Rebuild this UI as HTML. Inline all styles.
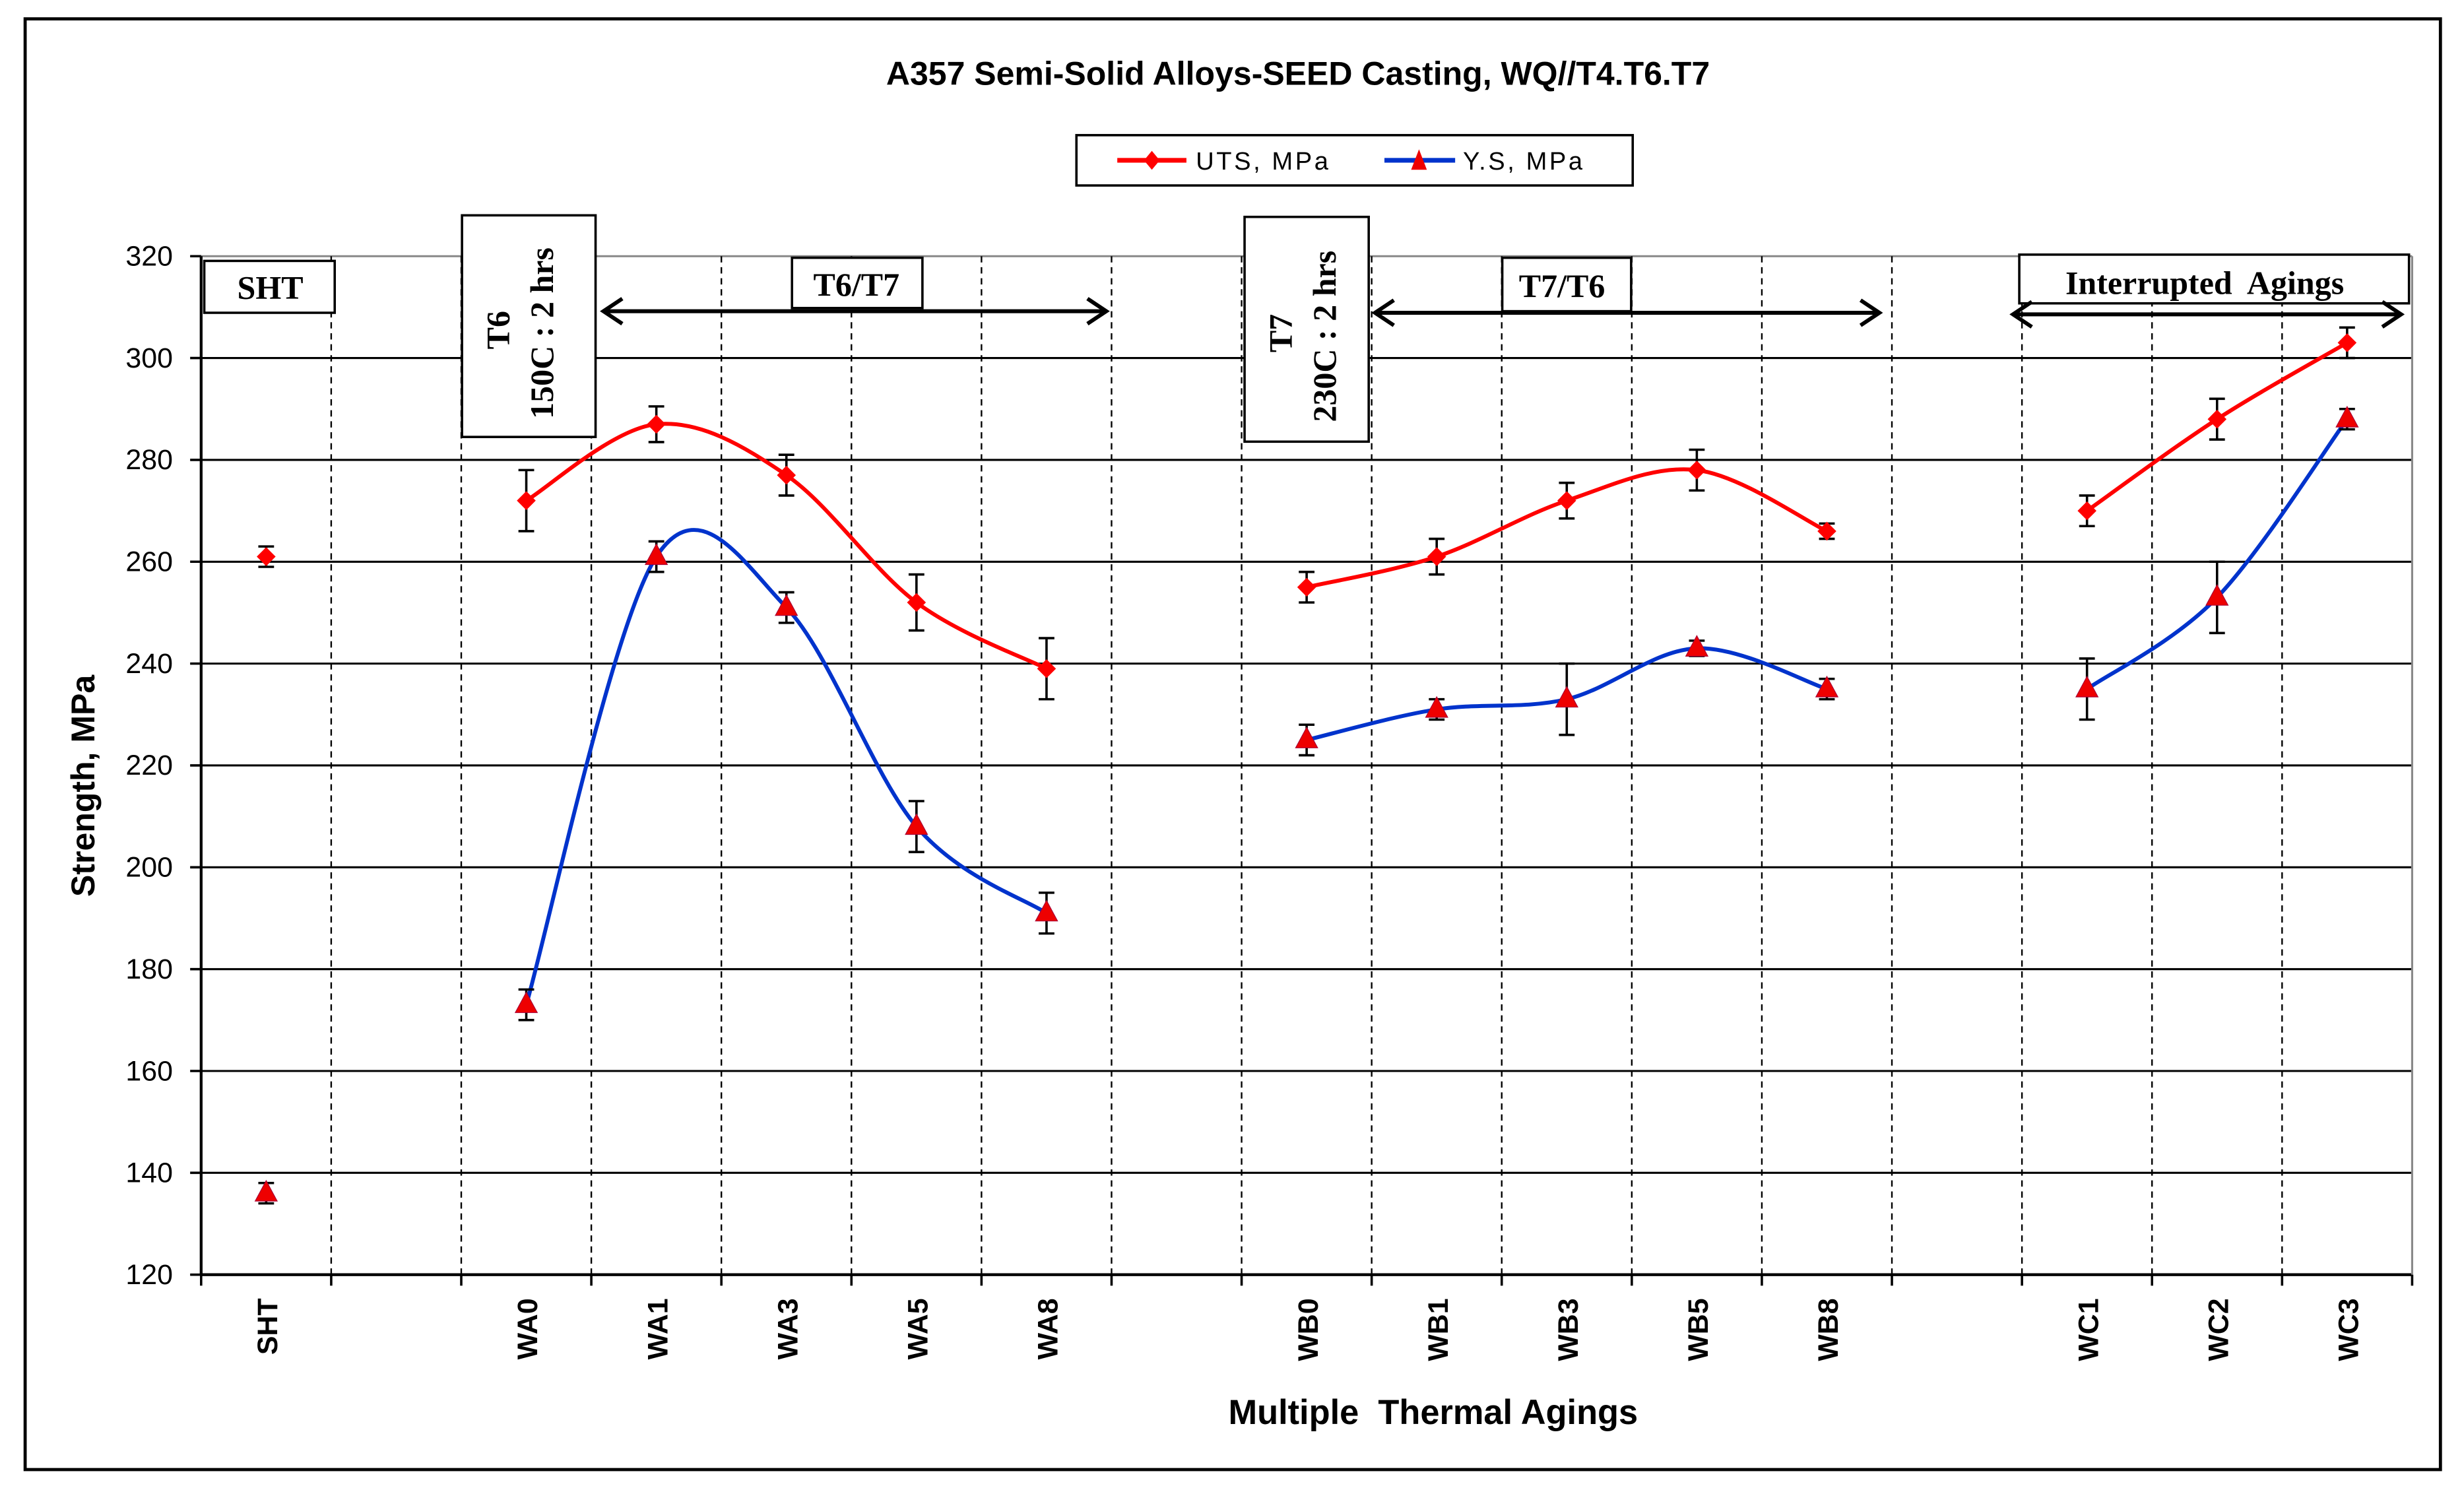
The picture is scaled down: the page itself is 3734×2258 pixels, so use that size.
<!DOCTYPE html>
<html><head><meta charset="utf-8"><style>
html,body{margin:0;padding:0;background:#fff;}
svg{display:block;}
text{font-family:"Liberation Sans",sans-serif;}
.serif{font-family:"Liberation Serif",serif;font-weight:bold;}
</style></head><body>
<svg id="chart" width="3734" height="2258" viewBox="0 0 1568 948" preserveAspectRatio="none" xmlns="http://www.w3.org/2000/svg">
<rect x="0" y="0" width="1568" height="948" fill="#fff"/>
<rect x="16" y="12" width="1537" height="923" fill="none" stroke="#000" stroke-width="2"/>
<text x="826" y="54" text-anchor="middle" font-size="21" font-weight="bold">A357  Semi-Solid Alloys-SEED Casting, WQ//T4.T6.T7</text>
<g>
<rect x="685" y="86" width="354" height="32" fill="#fff" stroke="#000" stroke-width="1.5"/>
<line x1="711" y1="102" x2="755" y2="102" stroke="#f00" stroke-width="3"/>
<path d="M733 96 L738 102 L733 108 L728 102Z" fill="#f00"/>
<text x="761" y="108" font-size="16" letter-spacing="1.5">UTS, MPa</text>
<line x1="881" y1="102" x2="926" y2="102" stroke="#0033cc" stroke-width="3"/>
<path d="M903 95 L908 108 L898 108Z" fill="#e00"/>
<text x="931" y="108" font-size="16" letter-spacing="1.5">Y.S, MPa</text>
</g>
<g id="grid"></g>
<g id="axes"></g>
<g id="annot">
<rect x="130" y="166" width="83" height="33" fill="#fff" stroke="#000" stroke-width="1.5"/>
<text class="serif" x="172" y="190" text-anchor="middle" font-size="21">SHT</text>
<rect x="294" y="137" width="85" height="141" fill="#fff" stroke="#000" stroke-width="1.5"/>
<text class="serif" font-size="21" transform="translate(324,210) rotate(-90)" text-anchor="middle">T6</text>
<text class="serif" font-size="21" transform="translate(352,212) rotate(-90)" text-anchor="middle">150C : 2 hrs</text>
<line x1="384" y1="198" x2="704" y2="198" stroke="#000" stroke-width="2.5"/>
<path d="M396 190 L384 198 L396 206 M692 190 L704 198 L692 206" fill="none" stroke="#000" stroke-width="2.5"/>
<rect x="504" y="164" width="83" height="32" fill="#fff" stroke="#000" stroke-width="1.5"/>
<text class="serif" x="545" y="188" text-anchor="middle" font-size="21">T6/T7</text>
<rect x="792" y="138" width="79" height="143" fill="#fff" stroke="#000" stroke-width="1.5"/>
<text class="serif" font-size="21" transform="translate(822,212) rotate(-90)" text-anchor="middle">T7</text>
<text class="serif" font-size="21" transform="translate(850,214) rotate(-90)" text-anchor="middle">230C : 2 hrs</text>
<line x1="875" y1="199" x2="1196" y2="199" stroke="#000" stroke-width="2.5"/>
<path d="M887 191 L875 199 L887 207 M1184 191 L1196 199 L1184 207" fill="none" stroke="#000" stroke-width="2.5"/>
<rect x="956" y="164" width="82" height="34" fill="#fff" stroke="#000" stroke-width="1.5"/>
<text class="serif" x="994" y="189" text-anchor="middle" font-size="21">T7/T6</text>
<rect x="1285" y="162" width="248" height="31" fill="#fff" stroke="#000" stroke-width="1.5"/>
<text class="serif" x="1403" y="187" text-anchor="middle" font-size="21" xml:space="preserve">Interrupted  Agings</text>
<line x1="1281" y1="200" x2="1528" y2="200" stroke="#000" stroke-width="2.5"/>
<path d="M1293 192 L1281 200 L1293 208 M1516 192 L1528 200 L1516 208" fill="none" stroke="#000" stroke-width="2.5"/>
</g>
<g id="series"></g>
<text transform="translate(60,500) rotate(-90)" text-anchor="middle" font-size="21" font-weight="bold">Strength, MPa</text>
<text x="912" y="906" text-anchor="middle" font-size="22" font-weight="bold" xml:space="preserve">Multiple  Thermal Agings</text>
</svg>
<script>
const categories = ["SHT","","WA0","WA1","WA3","WA5","WA8","","WB0","WB1","WB3","WB5","WB8","","WC1","WC2","WC3"];
const utsValues = [261,null,272,287,277,252,239,null,255,261,272,278,266,null,270,288,303];
const utsErrors = [2,null,6,3.5,4,5.5,6,null,3,3.5,3.5,4,1.5,null,3,4,3];
const ysValues = [136,null,173,261,251,208,191,null,225,231,233,243,235,null,235,253,288];
const ysErrors = [2,null,3,3,3,5,4,null,3,2,7,1.5,2,null,6,7,2];
const yTicks = [120,140,160,180,200,220,240,260,280,300,320];

const NS="http://www.w3.org/2000/svg";
const L=128,R=1535,T=163,B=811,yMin=120,yMax=320;
const slot=(R-L)/categories.length;
const xPos=i=>L+slot*(i+0.5);
const yPos=v=>B-(v-yMin)/(yMax-yMin)*(B-T);
function mk(tag,attrs,parent){const e=document.createElementNS(NS,tag);for(const k in attrs)e.setAttribute(k,attrs[k]);parent.appendChild(e);return e;}
const grid=document.getElementById('grid'),axes=document.getElementById('axes'),series=document.getElementById('series');

yTicks.forEach((v,i)=>{
  const y=yPos(v);
  const ln=mk('line',{x1:L,x2:R,y1:y,y2:y,stroke:i===yTicks.length-1?'#888':'#000','stroke-width':1.3},grid);
  
  
  const tk=mk('line',{x1:L-7,x2:L,y1:y,y2:y,stroke:'#000','stroke-width':1.5},axes);
  
  
  const t=mk('text',{x:L-18,y:y+6,'text-anchor':'end','font-size':18},axes);
  t.textContent=v;
  
  
});
for(let i=0;i<=categories.length;i++){
  const x=L+slot*i;
  if(i>0&&i<categories.length){
    const d=mk('line',{x1:x,x2:x,y1:T,y2:B,stroke:'#000','stroke-width':1,'stroke-dasharray':'4,3'},grid);
    
    
  }
  const tk=mk('line',{x1:x,x2:x,y1:B,y2:B+7,stroke:'#000','stroke-width':1.5},axes);
  
  
}
const ax1=mk('line',{x1:L,x2:L,y1:T,y2:B,stroke:'#000','stroke-width':1.8},axes);


const ax2=mk('line',{x1:L,x2:R,y1:B,y2:B,stroke:'#000','stroke-width':1.8},axes);


const ax3=mk('line',{x1:R,x2:R,y1:T,y2:B,stroke:'#888','stroke-width':1.3},axes);


categories.forEach((c,i)=>{
  if(!c)return;
  const t=mk('text',{transform:`translate(${xPos(i)+7},${826}) rotate(-90)`,'text-anchor':'end','font-size':18,'font-weight':'bold'},axes);
  t.textContent=c;
  
  
});

function smoothPath(pts){
  let d=`M${pts[0][0]},${pts[0][1]}`;
  for(let i=0;i<pts.length-1;i++){
    const p0=pts[i-1]||pts[i],p1=pts[i],p2=pts[i+1],p3=pts[i+2]||p2;
    const c1=[p1[0]+(p2[0]-p0[0])/6,p1[1]+(p2[1]-p0[1])/6];
    const c2=[p2[0]-(p3[0]-p1[0])/6,p2[1]-(p3[1]-p1[1])/6];
    d+=` C${c1[0]},${c1[1]} ${c2[0]},${c2[1]} ${p2[0]},${p2[1]}`;
  }
  return d;
}
function drawSeries(vals,errs,color,marker,name){
  let seg=[];const segs=[];
  vals.forEach((v,i)=>{if(v==null){if(seg.length)segs.push(seg);seg=[];}else seg.push([xPos(i),yPos(v)]);});
  if(seg.length)segs.push(seg);
  segs.forEach(s=>{if(s.length<2)return;
    const p=mk('path',{d:smoothPath(s),fill:'none',stroke:color,'stroke-width':2.5},series);
    
    
  });
  vals.forEach((v,i)=>{
    if(v==null)return;
    const x=xPos(i),y=yPos(v),e=errs[i];
    const y1=yPos(v+e),y2=yPos(v-e);
    const eb=mk('path',{d:`M${x},${y1}V${y2}M${x-5},${y1}H${x+5}M${x-5},${y2}H${x+5}`,stroke:'#000','stroke-width':1.5,fill:'none'},series);
    
    
    let m;
    if(marker==='diamond') m=mk('path',{d:`M${x},${y-6}L${x+6},${y}L${x},${y+6}L${x-6},${y}Z`,fill:'#f00'},series);
    else m=mk('path',{d:`M${x},${y-8}L${x+7},${y+5}L${x-7},${y+5}Z`,fill:'#e00',stroke:'#a03','stroke-width':0.5},series);
    
    
  });
}
drawSeries(ysValues,ysErrors,'#0033cc','triangle','ys');
drawSeries(utsValues,utsErrors,'#ff0000','diamond','uts');
</script>
</body></html>
